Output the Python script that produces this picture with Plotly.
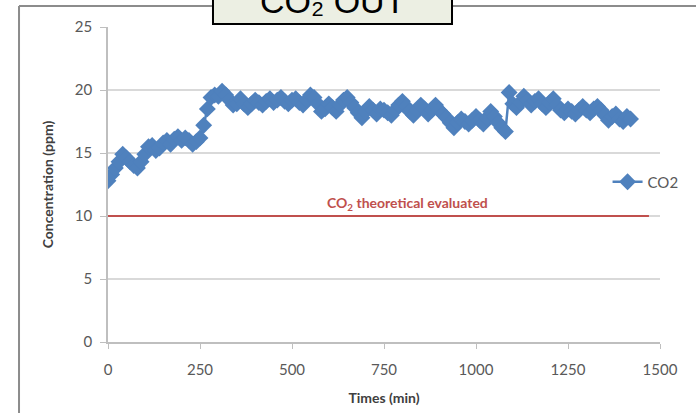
import plotly.graph_objects as go

# CO2 outlet concentration sampled every 10 minutes
time_min = [
    0, 10, 20, 30, 40, 50, 60, 70, 80, 90,
    100, 110, 120, 130, 140, 150, 160, 170, 180, 190,
    200, 210, 220, 230, 240, 250, 260, 270, 280, 290,
    300, 310, 320, 330, 340, 350, 360, 370, 380, 390,
    400, 410, 420, 430, 440, 450, 460, 470, 480, 490,
    500, 510, 520, 530, 540, 550, 560, 570, 580, 590,
    600, 610, 620, 630, 640, 650, 660, 670, 680, 690,
    700, 710, 720, 730, 740, 750, 760, 770, 780, 790,
    800, 810, 820, 830, 840, 850, 860, 870, 880, 890,
    900, 910, 920, 930, 940, 950, 960, 970, 980, 990,
    1000, 1010, 1020, 1030, 1040, 1050, 1060, 1070, 1080, 1090,
    1100, 1110, 1120, 1130, 1140, 1150, 1160, 1170, 1180, 1190,
    1200, 1210, 1220, 1230, 1240, 1250, 1260, 1270, 1280, 1290,
    1300, 1310, 1320, 1330, 1340, 1350, 1360, 1370, 1380, 1390,
    1400, 1410, 1420,
]
co2_ppm = [
    12.8, 13.3, 13.8, 14.3, 14.9, 14.6, 14.3, 14.0, 13.8, 14.3,
    14.9, 15.5, 15.6, 15.2, 15.4, 15.8, 16.0, 15.7, 16.1, 16.3,
    16.0, 16.2, 16.0, 15.7, 15.9, 16.2, 17.2, 18.5, 19.4, 19.6,
    19.5, 19.9, 19.6, 19.2, 18.8, 18.9, 19.3, 18.9, 18.6, 18.9,
    19.2, 19.0, 18.8, 19.1, 19.3, 19.0, 19.2, 19.4, 19.1, 18.9,
    19.2, 19.3, 19.0, 18.8, 19.2, 19.6, 19.4, 18.9, 18.3, 18.5,
    18.9, 18.6, 18.3, 18.8, 19.2, 19.4, 19.0, 18.6, 18.2, 17.8,
    18.3, 18.7, 18.4, 18.1, 18.5, 18.4, 18.2, 18.0, 18.4, 18.8,
    19.1, 18.7, 18.3, 18.0, 18.4, 18.8, 18.5, 18.1, 18.4, 18.8,
    18.4, 18.1, 17.8, 17.4, 17.0, 17.4, 17.7, 17.5, 17.3, 17.6,
    17.9, 17.6, 17.3, 17.8, 18.3, 17.9, 17.4, 17.0, 16.7, 19.8,
    18.9, 18.6, 19.0, 19.5, 19.2, 18.8, 19.1, 19.3, 18.9, 18.6,
    19.0, 19.3, 18.8, 18.4, 18.2, 18.5, 18.3, 18.1, 18.4, 18.7,
    18.4, 18.2, 18.5, 18.7, 18.4, 18.0, 17.6, 17.9, 18.1, 17.7,
    17.5, 17.9, 17.7,
]

# Theoretical CO2 level
theo_x = [0, 1470]
theo_y = [10, 10]

x_ticks = [0, 250, 500, 750, 1000, 1250, 1500]
y_ticks = [0, 5, 10, 15, 20, 25]

BLUE = "#4F81BD"
RED = "#C0504D"
GRID = "#D9D9D9"
TXT = "#595959"
FONT = "Lato, 'Open Sans', sans-serif"

fig = go.Figure()
fig.add_trace(go.Scatter(
    x=theo_x, y=theo_y, mode="lines",
    line=dict(color=RED, width=2), showlegend=False, hoverinfo="skip",
))
fig.add_trace(go.Scatter(
    x=time_min, y=co2_ppm, mode="lines+markers", name="CO2",
    line=dict(color=BLUE, width=2.5),
    marker=dict(symbol="diamond", size=13, color=BLUE),
))

fig.update_layout(
    width=696, height=413,
    margin=dict(l=108, r=36, t=27, b=71),
    paper_bgcolor="white", plot_bgcolor="white",
    font=dict(family=FONT, color=TXT, size=15),
    legend=dict(x=0.905, y=0.508, xanchor="left", yanchor="middle",
                bgcolor="rgba(0,0,0,0)", font=dict(size=15, color=TXT),
                itemwidth=30, tracegroupgap=0),
    xaxis=dict(
        range=[0, 1500], tickvals=x_ticks, showgrid=False,
        showline=True, linecolor="#BFBFBF", linewidth=1.5,
        ticks="outside", ticklen=5, tickcolor="#BFBFBF",
        ticklabelstandoff=8, automargin=False,
        tickfont=dict(size=15, color=TXT),
        title=dict(text="<b>Times (min)</b>", font=dict(size=14, color="#404040"), standoff=16),
        zeroline=False,
    ),
    yaxis=dict(
        range=[0, 25], tickvals=y_ticks, showgrid=True, gridcolor=GRID, gridwidth=1.5,
        showline=True, linecolor="#BFBFBF", linewidth=1.5,
        ticks="outside", ticklen=6, tickcolor="#BFBFBF",
        ticklabelstandoff=5, automargin=False,
        tickfont=dict(size=15, color=TXT),
        title=dict(text="<b>Concentration (ppm)</b>", font=dict(size=14, color="#404040"), standoff=18),
        zeroline=False,
    ),
)

# Outer chart frame (top and left edges)
fig.add_shape(type="line", xref="paper", yref="paper",
              x0=-0.1612, x1=1.2, y0=1.0667, y1=1.0667,
              line=dict(color="#8C8C8C", width=2), layer="above")
fig.add_shape(type="line", xref="paper", yref="paper",
              x0=-0.1612, x1=-0.1612, y0=-0.5, y1=1.0667,
              line=dict(color="#8C8C8C", width=2), layer="above")

# Title box
fig.add_shape(type="rect", xref="paper", yref="paper",
              x0=0.1902, x1=0.6232, y0=1.0095, y1=1.2,
              fillcolor="#ECEFE3", line=dict(color="black", width=2), layer="above")
fig.add_annotation(xref="paper", yref="paper", x=0.4076, y=1.082,
                   xanchor="center", yanchor="middle", showarrow=False,
                   text="CO₂ OUT",
                   font=dict(family="'Liberation Sans', Arial, sans-serif", size=34, color="black"))

# Label for the theoretical line
fig.add_annotation(x=815, y=11.0, xref="x", yref="y", showarrow=False,
                   text="<b>CO<sub>2</sub> theoretical evaluated</b>",
                   font=dict(size=14, color=RED))

fig.write_html("out.html")
